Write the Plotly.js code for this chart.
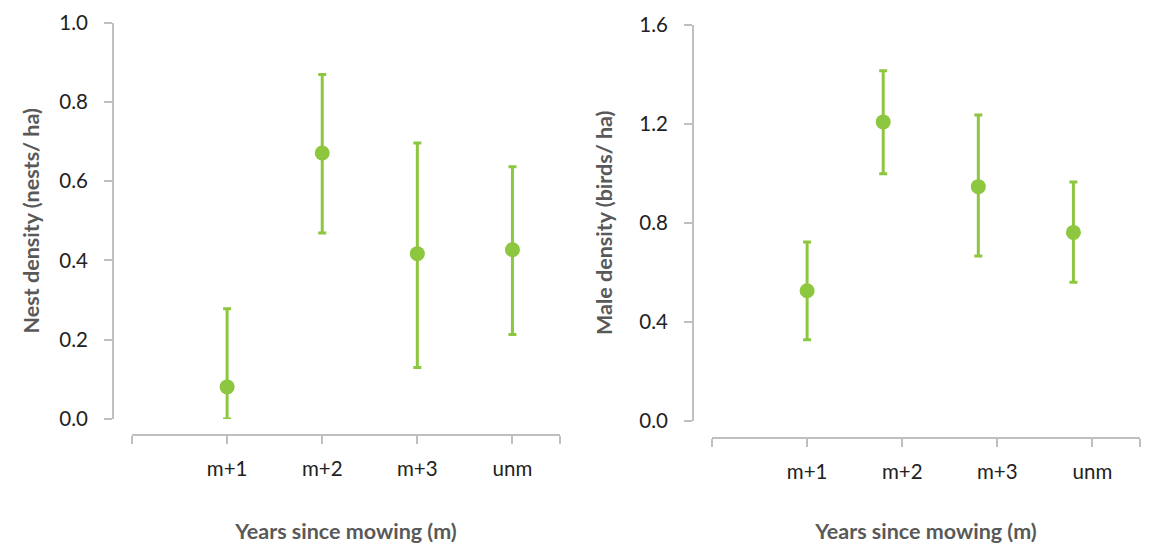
<!DOCTYPE html>
<html>
<head>
<meta charset="utf-8">
<script src="https://cdn.plot.ly/plotly-3.0.1.min.js"></script>
<style>html,body{margin:0;padding:0;background:#fff;}#chart{width:1150px;height:546px;}</style>
</head>
<body>
<div id="chart"></div>
<script>
// Categories
const categories = ['m+1', 'm+2', 'm+3', 'unm'];
// Horizontal positions of the points on each panel's axis
const xNest = [1, 2, 3, 4];
const xMale = [1, 1.8, 2.8, 3.8];

// Nest density (nests/ ha)
const nestMean  = [0.081, 0.671, 0.417, 0.427];
const nestLower = [0.000, 0.469, 0.130, 0.213];
const nestUpper = [0.278, 0.869, 0.696, 0.636];

// Male density (birds/ ha)
const maleMean  = [0.525, 1.208, 0.946, 0.761];
const maleLower = [0.327, 0.998, 0.665, 0.559];
const maleUpper = [0.722, 1.415, 1.236, 0.965];

const tickValsX = [0, 1, 2, 3, 4, 4.5];
const tickTextX = [''].concat(categories).concat(['']);

const green = '#8dc63f';
const axisGray = '#bfbfbf';
const fontFam = 'Lato, "Open Sans", sans-serif';

function errTrace(x, mean, lo, hi, xa, ya, name) {
  return {
    type: 'scatter', mode: 'markers', name: name,
    x: x, y: mean, xaxis: xa, yaxis: ya,
    text: categories,
    marker: {color: green, size: 15},
    cliponaxis: false,
    error_y: {
      type: 'data', symmetric: false,
      array: hi.map((h, i) => h - mean[i]),
      arrayminus: lo.map((l, i) => mean[i] - l),
      color: green, thickness: 3, width: 4
    },
    showlegend: false
  };
}

const data = [
  errTrace(xNest, nestMean, nestLower, nestUpper, 'x', 'y', 'Nest density'),
  errTrace(xMale, maleMean, maleLower, maleUpper, 'x2', 'y2', 'Male density')
];

const tickFont = {family: fontFam, size: 20.5, color: '#222222'};
const titleFont = {family: fontFam, size: 21.5, color: '#595959', weight: 'bold'};

function xAxis(domain, pos, standoff) {
  return {
    domain: domain, anchor: 'free', position: pos,
    range: [0, 4.5], tickmode: 'array', tickvals: tickValsX, ticktext: tickTextX,
    showline: true, linecolor: axisGray, linewidth: 2,
    ticks: 'outside', ticklen: 8, tickwidth: 2, tickcolor: axisGray,
    showgrid: false, zeroline: false, fixedrange: true,
    tickfont: tickFont, ticklabelstandoff: 7,
    title: {text: 'Years since mowing (m)', font: titleFont, standoff: standoff}
  };
}
function yAxis(domain, pos, range, dtick, title, standoff) {
  return {
    domain: domain, anchor: 'free', position: pos,
    range: range, dtick: dtick, tick0: 0, tickformat: '.1f',
    showline: true, linecolor: axisGray, linewidth: 2,
    ticks: 'outside', ticklen: 8, tickwidth: 2, tickcolor: axisGray,
    showgrid: false, zeroline: false, fixedrange: true,
    tickfont: tickFont, ticklabelstandoff: 12,
    title: {text: title, font: titleFont, standoff: standoff}
  };
}

const layout = {
  width: 1150, height: 546,
  margin: {l: 0, r: 0, t: 0, b: 0},
  paper_bgcolor: '#ffffff', plot_bgcolor: '#ffffff',
  font: {family: fontFam},
  xaxis: xAxis([132/1150, 560/1150], (546-435)/546, 44),
  yaxis: yAxis([(546-419)/546, (546-22.5)/546], 113/1150, [0, 1], 0.2, 'Nest density (nests/ ha)', 13),
  xaxis2: xAxis([712/1150, 1140/1150], (546-438)/546, 41),
  yaxis2: yAxis([(546-420.5)/546, (546-25)/546], 693/1150, [0, 1.6], 0.4, 'Male density (birds/ ha)', 20)
};

Plotly.newPlot('chart', data, layout, {displayModeBar: false, staticPlot: true});
</script>
</body>
</html>
